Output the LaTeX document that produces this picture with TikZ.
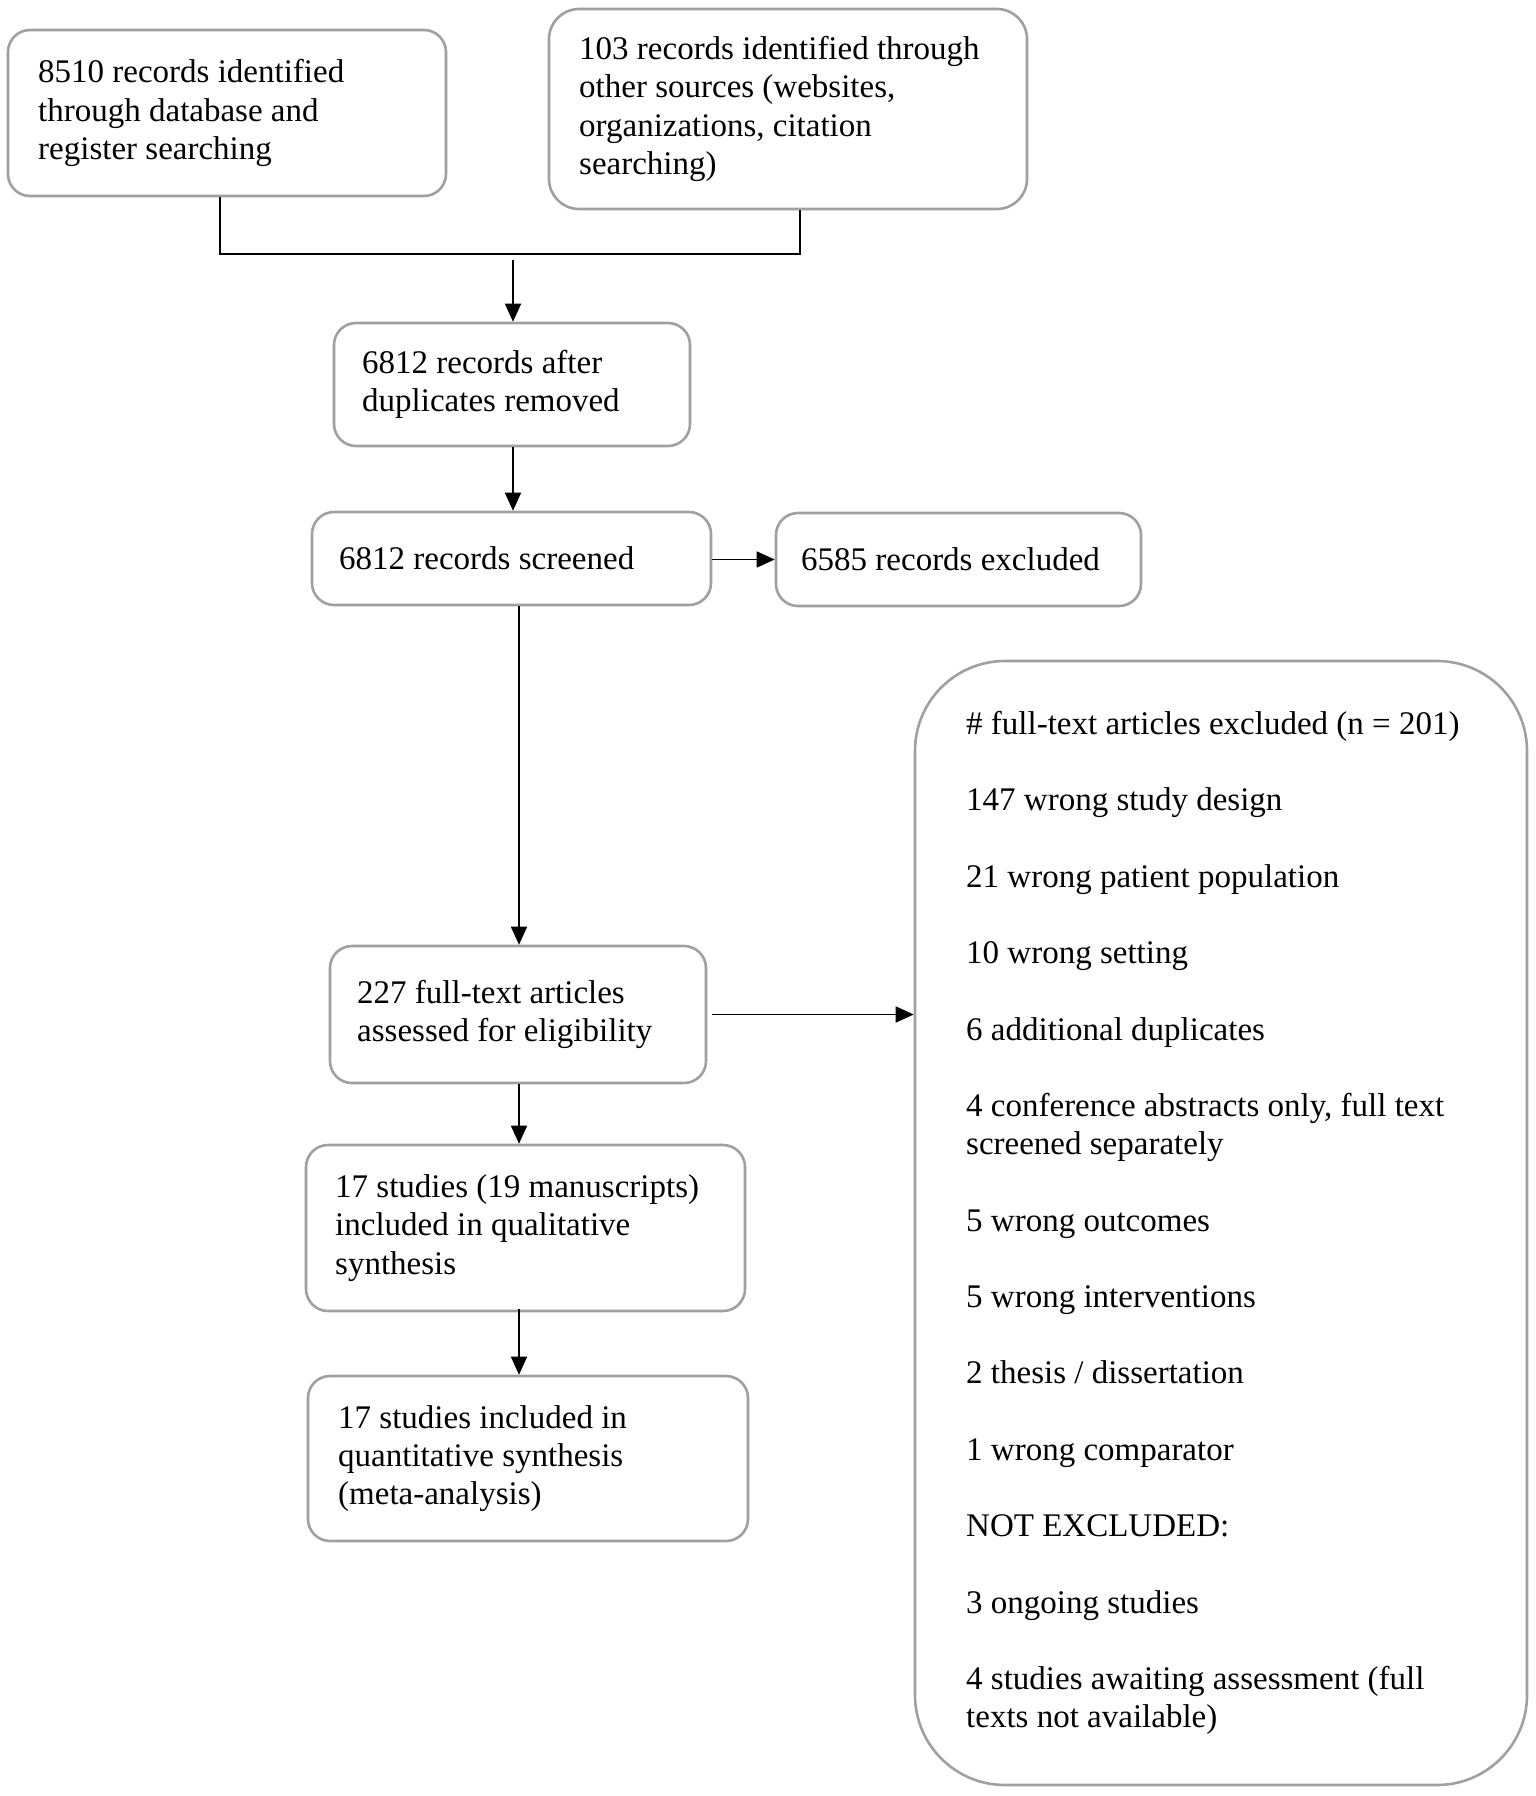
\documentclass[tikz,border=0pt]{standalone}
\usepackage{fontspec}
\setmainfont{Liberation Serif}
\usetikzlibrary{arrows.meta}
\definecolor{boxgray}{RGB}{160,160,160}
\begin{document}
\begin{tikzpicture}[x=1pt,y=-1pt,
  box/.style={draw=boxgray, line width=2.6pt, rounded corners=22pt, inner sep=0pt},
  txt/.style={anchor=west, align=left, inner sep=0pt, font=\fontsize{33}{38.2}\selectfont},
  conn/.style={line width=1.6pt, black},
  arr/.style={conn, -{Triangle[length=18pt,width=16pt]}}]
\useasboundingbox (0,0) rectangle (1535,1796);
% boxes
\node[box, minimum width=438pt, minimum height=166pt] (b1) at (227,113) {};
\node[box, rounded corners=30pt, minimum width=478pt, minimum height=200pt] (b2) at (788,109) {};
\node[box, minimum width=356pt, minimum height=123pt] (b3) at (512,384.5) {};
\node[box, minimum width=399pt, minimum height=93pt] (b4) at (511.5,558.5) {};
\node[box, minimum width=365pt, minimum height=93pt] (b5) at (958.5,559.5) {};
\node[box, minimum width=376pt, minimum height=137pt] (b6) at (518,1014.5) {};
\node[box, minimum width=439pt, minimum height=166pt] (b7) at (525.5,1228) {};
\node[box, minimum width=440pt, minimum height=165pt] (b8) at (528,1458.5) {};
\node[box, rounded corners=90pt, minimum width=612pt, minimum height=1124pt] (big) at (1221,1223) {};
% texts
\node[txt] (t1) at (38,113) {8510 records identified\\through database and\\register searching};
\node[txt] (t2) at (579,109) {103 records identified through\\other sources (websites,\\organizations, citation\\searching)};
\node[txt] (t3) at (362,384.5) {6812 records after\\duplicates removed};
\node[txt] (t4) at (339,558.5) {6812 records screened};
\node[txt] (t5) at (801,559.5) {6585 records excluded};
\node[txt] (t6) at (357,1014.5) {227 full-text articles\\assessed for eligibility};
\node[txt] (t7) at (335,1228) {17 studies (19 manuscripts)\\included in qualitative\\synthesis};
\node[txt] (t8) at (338,1458.5) {17 studies included in\\quantitative synthesis\\(meta-analysis)};
\node[txt] (tbig) at (966,1223) {\# full-text articles excluded (n = 201)\\[38.2pt]
147 wrong study design\\[38.2pt]
21 wrong patient population\\[38.2pt]
10 wrong setting\\[38.2pt]
6 additional duplicates\\[38.2pt]
4 conference abstracts only, full text\\screened separately\\[38.2pt]
5 wrong outcomes\\[38.2pt]
5 wrong interventions\\[38.2pt]
2 thesis / dissertation\\[38.2pt]
1 wrong comparator\\[38.2pt]
NOT EXCLUDED:\\[38.2pt]
3 ongoing studies\\[38.2pt]
4 studies awaiting assessment (full\\texts not available)};
% connectors
\coordinate (j1) at (220,254);
\coordinate (j2) at (800,254);
\coordinate (j) at (513,260);
\draw[conn] (b1.south -| j1) -- (j1) -- (j2) -- (b2.south -| j2);
\draw[arr] (j) -- (j |- b3.north);
\draw[arr] (b3.south -| j) -- (b4.north -| j);
\draw[arr] (b4.east |- b5.west) -- (b5.west);
\coordinate (k) at (519,0);
\draw[arr] (b4.south -| k) -- (b6.north -| k);
\draw[arr] ([xshift=5pt]b6.east) -- (b6.east -| big.west);
\draw[arr] (b6.south -| k) -- (b7.north -| k);
\draw[arr] ([yshift=3pt]b7.south -| k) -- (b8.north -| k);
\end{tikzpicture}
\end{document}
